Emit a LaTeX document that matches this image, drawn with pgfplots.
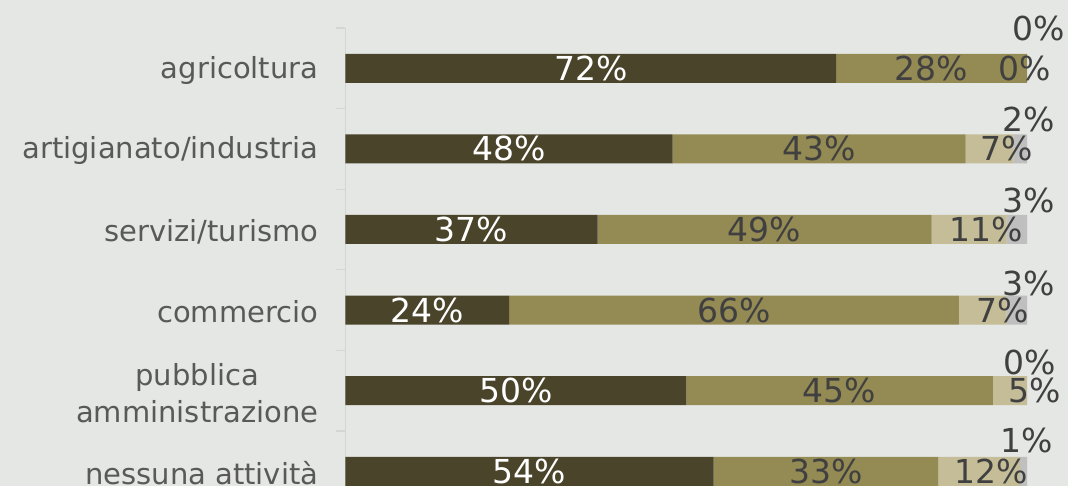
\documentclass[border=0pt]{standalone}
\usepackage{pgfplots}
\pgfplotsset{compat=1.18}
\usepackage{pgfplotstable}
\usepackage{fontspec}
\setmainfont{DejaVu Sans}
\definecolor{bgc}{RGB}{229,231,228}
\definecolor{c1}{RGB}{74,68,43}
\definecolor{c2}{RGB}{148,138,84}
\definecolor{c3}{RGB}{196,189,151}
\definecolor{c4}{RGB}{191,191,191}
\definecolor{axc}{RGB}{212,214,211}
\definecolor{lab}{RGB}{89,89,89}
\definecolor{dlab}{RGB}{64,64,64}

% y: category position, v: value, c: start of segment, dx/dy: label offsets (pt)
\pgfplotstableread{
y v c dx dy
5 72 0 0 0
4 48 0 0 0
3 37 0 0 0
2 24 0 0 0
1 50 0 0 0
0 54 0 0 0
}\sA
\pgfplotstableread{
y v c dx dy
5 28 72 0 0
4 43 48 0 0
3 49 37 0 0
2 66 24 0 0
1 45 50 0 0
0 33 54 0 0
}\sB
\pgfplotstableread{
y v c dx dy
5 0 100 -2 0
4 7 91 17 0
3 11 86 17 0
2 7 90 20 0
1 5 95 25 0
0 12 87 12 0
}\sC
\pgfplotstableread{
y v c dx dy
5 0 100 12 40
4 2 98 8 29
3 3 97 12 29.5
2 3 97 12 27
1 0 100 3 28.5
0 1 99 3 30.5
}\sD

\pgfplotsset{
  mygeom/.style={
    at={(345.5pt,-25.6pt)}, anchor=south west,
    scale only axis, width=681.5pt, height=483.6pt,
    xmin=0, xmax=100, ymin=-0.5, ymax=5.5, clip=false,
  },
  lbl/.style={
    only marks, mark=none,
    point meta=explicit symbolic,
    nodes near coords={\pgfplotspointmeta\%},
    every node near coord/.append style={anchor=center, inner sep=0pt,
       font=\fontsize{33}{39}\selectfont, text=#1},
  },
}
% label position: segment centre plus offset in pt (1 unit x = 6.815pt, 1 unit y = 80.6pt)
\def\lx{\thisrow{c}+\thisrow{v}/2+\thisrow{dx}/6.815}
\def\ly{\thisrow{y}+\thisrow{dy}/80.6}

\begin{document}
\begin{tikzpicture}[x=1pt,y=1pt]
\useasboundingbox (0,0) rectangle (1068,486);
\clip (0,0) rectangle (1068,486);
\fill[bgc] (0,0) rectangle (1068,486);
\begin{axis}[
  mygeom,
  xbar stacked, bar width=29pt,
  axis x line=none, xtick=\empty,
  axis y line*=left,
  y axis line style={draw=axc, line width=1.3pt},
  ytick={0,1,2,3,4,5},
  yticklabels={nessuna attività,{pubblica\\amministrazione},commercio,servizi/turismo,artigianato/industria,agricoltura},
  minor ytick={-0.5,0.5,1.5,2.5,3.5,4.5,5.5},
  tick align=outside,
  major tick length=0pt, minor tick length=10pt,
  major tick style={draw=none},
  minor tick style={draw=axc, line width=1.3pt},
  yticklabel style={font=\fontsize{29}{37}\selectfont, text=lab, align=center, inner xsep=0pt, xshift=-27pt, yshift=-2pt},
]
\addplot[fill=c1, draw=none] table[x=v, y=y] {\sA};
\addplot[fill=c2, draw=none] table[x=v, y=y] {\sB};
\addplot[fill=c3, draw=none] table[x=v, y=y] {\sC};
\addplot[fill=c4, draw=none] table[x=v, y=y] {\sD};
\end{axis}
\begin{axis}[mygeom, hide axis]
\addplot[lbl=white] table[x expr={\lx}, y expr={\ly}, meta=v] {\sA};
\addplot[lbl=dlab] table[x expr={\lx}, y expr={\ly}, meta=v] {\sB};
\addplot[lbl=dlab] table[x expr={\lx}, y expr={\ly}, meta=v] {\sC};
\addplot[lbl=dlab] table[x expr={\lx}, y expr={\ly}, meta=v] {\sD};
\end{axis}
\end{tikzpicture}
\end{document}
